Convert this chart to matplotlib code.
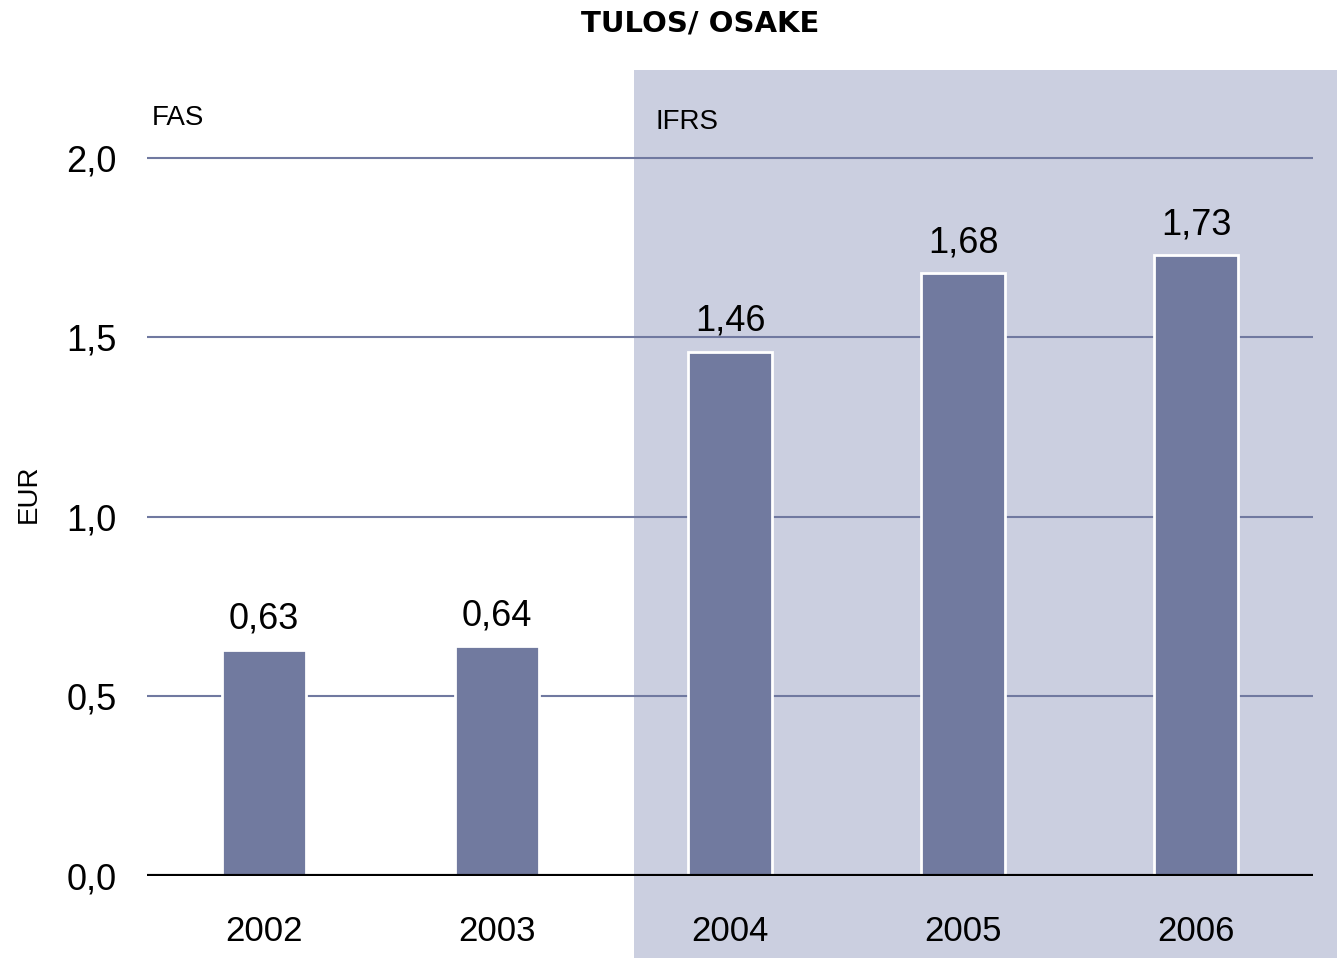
import matplotlib.pyplot as plt
from matplotlib.patches import Rectangle
from matplotlib.transforms import blended_transform_factory

# data
years = ['2002', '2003', '2004', '2005', '2006']
eps = [0.63, 0.64, 1.46, 1.68, 1.73]
yticks = [0.0, 0.5, 1.0, 1.5, 2.0]

bar_col = '#717a9f'
shade_col = '#cbcfe0'
font = 'Liberation Sans'

fig = plt.figure(figsize=(13.37, 9.58), dpi=100)
ax = fig.add_axes([147 / 1337, 1 - 876 / 958, 1166 / 1337, (876 - 70) / 958])

x = list(range(len(years)))
ax.set_xlim(-0.5, len(years) - 0.5)
ax.set_ylim(0, 2.245)

# IFRS shaded area, runs past the axes to the bottom and right figure edge
tr = blended_transform_factory(ax.transData, ax.transAxes)
shade = Rectangle((1.59, -0.11), 3.1, 1.11, transform=tr, facecolor=shade_col,
                  edgecolor='none', zorder=0, clip_on=False)
ax.add_patch(shade)

for v in yticks[1:]:
    ax.axhline(v, color='#7079a0', lw=1.5, zorder=1)

ax.bar(x, eps, width=0.36, color=bar_col, edgecolor='white', linewidth=2, zorder=2)
ax.axhline(0, color='black', lw=3, zorder=3)

for xi, v in zip(x, eps):
    ax.annotate(f'{v:.2f}'.replace('.', ','), (xi, v), xytext=(0, 15),
                textcoords='offset points', ha='center', va='baseline',
                fontsize=26, family=font)

ax.set_xticks(x)
ax.set_xticklabels(years, fontsize=25, family=font)
ax.set_yticks(yticks)
ax.set_yticklabels([f'{v:.1f}'.replace('.', ',') for v in yticks], fontsize=26, family=font)
ax.tick_params(length=0)
ax.tick_params(axis='x', pad=28)
ax.tick_params(axis='y', pad=22)
for s in ax.spines.values():
    s.set_visible(False)
ax.patch.set_alpha(0)

fig.text(29 / 1337, 1 - 494 / 958, 'EUR', rotation=90, ha='center', va='center',
         fontsize=20, family=font)
fig.text(152 / 1337, 1 - 118 / 958, 'FAS', fontsize=20, family=font, va='center')
fig.text(655 / 1337, 1 - 122 / 958, 'IFRS', fontsize=20, family=font, va='center')
fig.text(0.524, 1 - 24 / 958, 'TULOS/ OSAKE', ha='center', va='center',
         fontsize=21, fontweight='bold')

fig.savefig('out.png', dpi=100)
